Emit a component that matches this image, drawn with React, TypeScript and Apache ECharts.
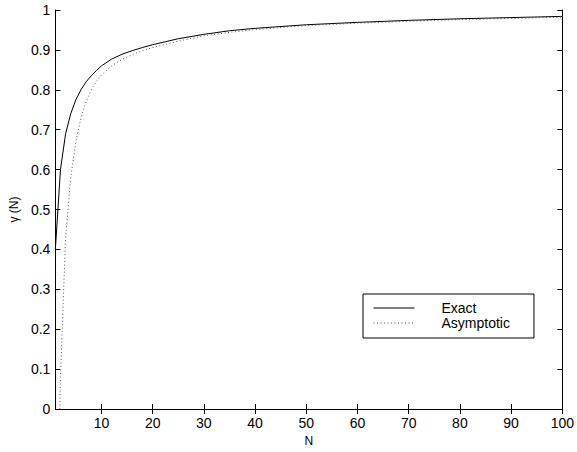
import React, { useEffect, useRef } from "react";
import * as echarts from "echarts";

const exactN = [1, 2, 3, 4, 5, 6, 7, 8, 9, 10, 12, 14, 16, 18, 20, 25, 30, 35, 40, 50, 60, 70, 80, 90, 100];
const exactValues = [0.40, 0.60, 0.69, 0.74, 0.775, 0.80, 0.82, 0.835, 0.848, 0.86, 0.877, 0.889, 0.898, 0.906, 0.913, 0.928, 0.939, 0.948, 0.954, 0.963, 0.969, 0.974, 0.978, 0.981, 0.984];

const asymN = [1, 2, 3, 4, 5, 6, 7, 8, 9, 10, 12, 14, 16, 18, 20, 25, 30, 35, 40, 50, 60, 70, 80, 90, 100];
const asymValues = [-0.5, 0.08, 0.43, 0.58, 0.67, 0.73, 0.77, 0.80, 0.82, 0.837, 0.86, 0.876, 0.888, 0.898, 0.906, 0.922, 0.935, 0.944, 0.951, 0.961, 0.967, 0.972, 0.976, 0.979, 0.982];

const xTicks = [10, 20, 30, 40, 50, 60, 70, 80, 90, 100];
const seriesNames = ["Exact", "Asymptotic"];

const FONT = "'Liberation Sans', Arial, Helvetica, sans-serif";

export default function App() {
  const ref = useRef<HTMLDivElement>(null);
  useEffect(() => {
    if (!ref.current) return;
    const chart = echarts.init(ref.current, undefined, { renderer: "svg" });
    const axisLine = { show: true, lineStyle: { color: "#000", width: 1 } };
    chart.setOption({
      animation: false,
      backgroundColor: "#fff",
      textStyle: { fontFamily: FONT, color: "#000" },
      grid: { left: 49, top: 10, right: 14, bottom: 38, containLabel: false },
      legend: {
        orient: "vertical",
        left: 363,
        top: 294,
        padding: [7, 24, 8, 10],
        itemWidth: 41,
        itemHeight: 14,
        itemGap: 1,
        borderColor: "#000",
        borderWidth: 1,
        borderRadius: 0,
        backgroundColor: "#fff",
        itemStyle: { opacity: 0 },
        lineStyle: { width: 1 },
        textStyle: { fontFamily: FONT, fontSize: 14, lineHeight: 14, color: "#000", padding: [0, 0, 0, 22] },
        data: seriesNames,
      },
      xAxis: [
        {
          type: "value",
          min: 1,
          max: 100,
          position: "bottom",
          name: "N",
          nameLocation: "middle",
          nameGap: 26,
          nameTextStyle: { fontFamily: FONT, fontSize: 12, color: "#000" },
          axisLine,
          splitLine: { show: false },
          axisTick: { show: true, inside: true, length: 5, customValues: xTicks, lineStyle: { color: "#000" } },
          axisLabel: { show: true, customValues: xTicks, margin: 7, fontFamily: FONT, fontSize: 14, color: "#000" },
        },
        {
          type: "value",
          min: 1,
          max: 100,
          position: "top",
          axisLine,
          splitLine: { show: false },
          axisTick: { show: true, inside: true, length: 5, customValues: xTicks, lineStyle: { color: "#000" } },
          axisLabel: { show: false },
        },
      ],
      yAxis: [
        {
          type: "value",
          min: 0,
          max: 1,
          interval: 0.1,
          position: "left",
          name: "\u03B3 (N)",
          nameLocation: "middle",
          nameGap: 35,
          nameTextStyle: { fontFamily: FONT, fontSize: 12, color: "#000" },
          axisLine,
          splitLine: { show: false },
          axisTick: { show: true, inside: true, length: 5, lineStyle: { color: "#000" } },
          axisLabel: { show: true, margin: 5, fontFamily: FONT, fontSize: 14, color: "#000" },
        },
        {
          type: "value",
          min: 0,
          max: 1,
          interval: 0.1,
          position: "right",
          axisLine,
          splitLine: { show: false },
          axisTick: { show: true, inside: true, length: 5, lineStyle: { color: "#000" } },
          axisLabel: { show: false },
        },
      ],
      series: [
        {
          name: seriesNames[0],
          type: "line",
          xAxisIndex: 0,
          yAxisIndex: 0,
          symbol: "none",
          clip: true,
          lineStyle: { color: "#000", width: 1 },
          itemStyle: { color: "#000" },
          data: exactN.map((n, i) => [n, exactValues[i]]),
        },
        {
          name: seriesNames[1],
          type: "line",
          xAxisIndex: 0,
          yAxisIndex: 0,
          symbol: "none",
          clip: true,
          lineStyle: { color: "#555", width: 1, type: [1, 2.5] },
          itemStyle: { color: "#555" },
          data: asymN.map((n, i) => [n, asymValues[i]]),
        },
      ],
    });
    return () => chart.dispose();
  }, []);
  return (
    <div
      ref={ref}
      style={{ position: "fixed", left: 0, top: 0, width: 577, height: 452, background: "#fff" }}
    />
  );
}
